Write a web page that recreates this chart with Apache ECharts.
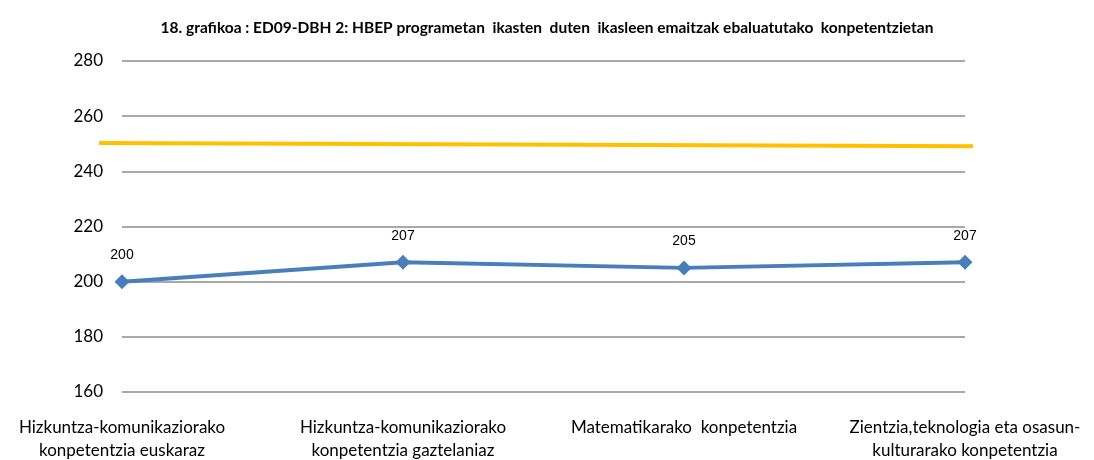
<!DOCTYPE html>
<html>
<head>
<meta charset="utf-8">
<script src="https://cdn.jsdelivr.net/npm/echarts@6/dist/echarts.min.js"></script>
<style>
  html, body { margin: 0; padding: 0; background: #fff; }
  #chart { width: 1094px; height: 460px; }
</style>
</head>
<body>
<div id="chart"></div>
<script>
;(function () {

    'use strict';

    var chartTitle = '18. grafikoa : ED09-DBH 2: HBEP programetan  ikasten  duten  ikasleen emaitzak ebaluatutako  konpetentzietan';

    var categories = [
        'Hizkuntza-komunikaziorako\nkonpetentzia euskaraz',
        'Hizkuntza-komunikaziorako\nkonpetentzia gaztelaniaz',
        'Matematikarako  konpetentzia',
        'Zientzia,teknologia eta osasun-\nkulturarako konpetentzia'
    ];

    var scores = [200, 207, 205, 207];

    // reference line, read at its two ends
    var refEnds = [0, 1];
    var refValues = [250.3, 249.1];

    var yMin = 160, yMax = 280, yStep = 20;

    var labelFont = 'Lato, "Open Sans", sans-serif';

    var buildChart = function () {
        var myChart = echarts.init(document.getElementById('chart'));

        var refData = refEnds.map(function (x, i) {
            return [x, refValues[i]];
        });

        var option = {
            animation: false,
            title: {
                text: chartTitle,
                left: 'center',
                top: 15,
                textStyle: {
                    fontFamily: labelFont,
                    fontSize: 15.5,
                    fontWeight: 'bold',
                    color: '#000'
                }
            },
            grid: [
                { left: 122, right: 129, top: 61, bottom: 68, outerBoundsMode: 'none' },
                { left: 99, right: 121, top: 61, bottom: 68, outerBoundsMode: 'none' }
            ],
            xAxis: [
                {
                    type: 'category',
                    gridIndex: 0,
                    data: categories,
                    boundaryGap: false,
                    axisLine: { show: false },
                    axisTick: { show: false },
                    axisLabel: {
                        interval: 0,
                        margin: 24,
                        fontFamily: labelFont,
                        fontSize: 17,
                        lineHeight: 23,
                        color: '#000'
                    }
                },
                {
                    type: 'value',
                    gridIndex: 1,
                    min: 0,
                    max: 1,
                    show: false
                }
            ],
            yAxis: [
                {
                    type: 'value',
                    gridIndex: 0,
                    min: yMin,
                    max: yMax,
                    interval: yStep,
                    axisLine: { show: false },
                    axisTick: { show: false },
                    axisLabel: {
                        margin: 19,
                        fontFamily: labelFont,
                        fontSize: 17,
                        color: '#000'
                    },
                    splitLine: { lineStyle: { color: '#8c8c8c', width: 1.5 } }
                },
                {
                    type: 'value',
                    gridIndex: 1,
                    min: yMin,
                    max: yMax,
                    show: false
                }
            ],
            series: [
                {
                    name: 'HBEP',
                    type: 'line',
                    xAxisIndex: 0,
                    yAxisIndex: 0,
                    data: scores,
                    z: 3,
                    symbol: 'diamond',
                    symbolSize: 15,
                    lineStyle: { color: '#4a7ebb', width: 4 },
                    itemStyle: { color: '#4a7ebb' },
                    label: {
                        show: true,
                        position: 'top',
                        distance: 12,
                        fontFamily: '"Liberation Sans", Arial, sans-serif',
                        fontSize: 14,
                        color: '#000'
                    }
                },
                {
                    name: 'ED09',
                    type: 'line',
                    xAxisIndex: 1,
                    yAxisIndex: 1,
                    data: refData,
                    z: 2,
                    symbol: 'none',
                    lineStyle: { color: '#ffc000', width: 4 }
                }
            ]
        };
        myChart.setOption(option);
    };

    buildChart();

}());
</script>
</body>
</html>
